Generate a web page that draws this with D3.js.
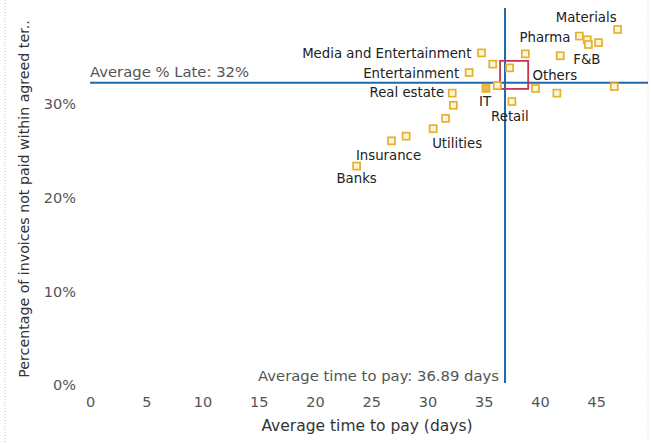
<!DOCTYPE html>
<html lang="en">
<head>
<meta charset="utf-8">
<title>Average time to pay vs late invoices</title>
<script src="https://d3js.org/d3.v7.min.js"></script>
<style>
  body { margin: 0; background: #fff; font-family: "DejaVu Sans", Verdana, sans-serif; }
  .tick text { fill: #555; font-size: 14.5px; font-family: "DejaVu Sans", Verdana, sans-serif; }
  .lbl { fill: #222; font-size: 13.3px; }
  .title { fill: #333; }
  .note { fill: #555; font-size: 14.8px; }
</style>
</head>
<body>
<script>
// sector, average days to pay, % of invoices paid late
var sectors = ["Materials", "Pharma", "", "", "", "", "F&B", "Media and Entertainment", "",
               "", "Entertainment", "Others", "", "", "IT", "", "Real estate", "",
               "Retail", "", "Utilities", "", "Insurance", "Banks"];
var days = [46.9, 43.5, 44.2, 44.3, 45.2, 38.7, 41.8, 34.8, 35.8,
            37.3, 33.7, 39.6, 41.5, 46.6, 35.2, 36.2, 32.2, 32.3,
            37.5, 31.6, 30.5, 28.1, 26.8, 23.7];
var late = [38.0, 37.3, 36.9, 36.4, 36.6, 35.4, 35.2, 35.5, 34.3,
            33.9, 33.4, 31.7, 31.2, 31.9, 31.7, 32.0, 31.2, 29.9,
            30.3, 28.5, 27.4, 26.6, 26.1, 23.4];
var xTicks = [0, 5, 10, 15, 20, 25, 30, 35, 40, 45];
var yTicks = [0, 10, 20, 30];
var avgDays = 36.89;
var avgLate = 32.3;
var highlight = [36.45, 38.95, 31.65, 34.65]; // x0, x1, y0, y1

// label placement: dx, dy, anchor
var place = {
  "Materials": [-1, -8, "end"],
  "Pharma": [-9, 6, "end"],
  "F&B": [13, 8, "start"],
  "Media and Entertainment": [-10, 5, "end"],
  "Entertainment": [-10, 5, "end"],
  "Others": [-3, -8, "start"],
  "IT": [-1, 18, "middle"],
  "Real estate": [-8, 4, "end"],
  "Retail": [-2, 19, "middle"],
  "Utilities": [-1, 19, "start"],
  "Insurance": [-3, 19, "middle"],
  "Banks": [0, 17, "middle"]
};

var W = 651, H = 444;
var svg = d3.select("body").append("svg").attr("width", W).attr("height", H);

var x = d3.scaleLinear().domain([0, 49.6]).range([90, 648]);
var y = d3.scaleLinear().domain([0, 40.3]).range([385, 8]);

// dotted frame edges
svg.append("line").attr("x1", 5).attr("x2", 5).attr("y1", 0).attr("y2", H)
   .attr("stroke", "#bbb").attr("stroke-dasharray", "1,2");
svg.append("line").attr("x1", 648).attr("x2", 648).attr("y1", 0).attr("y2", H)
   .attr("stroke", "#ccc").attr("stroke-dasharray", "1,2");

var xAxis = svg.append("g")
   .attr("transform", "translate(0,393)")
   .call(d3.axisBottom(x).tickValues(xTicks).tickSize(0).tickPadding(4));
xAxis.select(".domain").remove();

var yAxis = svg.append("g")
   .attr("transform", "translate(82,0)")
   .call(d3.axisLeft(y).tickValues(yTicks).tickFormat(function(d) { return d + "%"; }).tickSize(0).tickPadding(6));
yAxis.select(".domain").remove();

svg.append("text").attr("class", "title")
   .attr("x", 367).attr("y", 431).attr("text-anchor", "middle")
   .attr("font-size", "15.5px")
   .text("Average time to pay (days)");

svg.append("text").attr("class", "title")
   .attr("transform", "translate(29,199) rotate(-90)")
   .attr("text-anchor", "middle")
   .attr("font-size", "14.2px")
   .text("Percentage of invoices not paid within agreed ter..");

// reference lines
svg.append("line")
   .attr("x1", x(0)).attr("x2", x(49.6))
   .attr("y1", y(avgLate)).attr("y2", y(avgLate))
   .attr("stroke", "#1f68ad").attr("stroke-width", 2);
svg.append("line")
   .attr("x1", x(avgDays)).attr("x2", x(avgDays))
   .attr("y1", y(40.3)).attr("y2", y(0) - 2)
   .attr("stroke", "#1f68ad").attr("stroke-width", 2);

svg.append("text").attr("class", "note")
   .attr("x", x(0)).attr("y", y(avgLate) - 6)
   .text("Average % Late: " + Math.round(avgLate) + "%");
svg.append("text").attr("class", "note")
   .attr("x", x(avgDays) - 6).attr("y", y(0) - 4)
   .attr("text-anchor", "end")
   .text("Average time to pay: " + avgDays + " days");

// highlight box
svg.append("rect")
   .attr("x", x(highlight[0])).attr("y", y(highlight[3]))
   .attr("width", x(highlight[1]) - x(highlight[0]))
   .attr("height", y(highlight[2]) - y(highlight[3]))
   .attr("fill", "none").attr("stroke", "#c8324e").attr("stroke-width", 1.8);

var pts = sectors.map(function(s, i) { return {name: s, d: days[i], p: late[i]}; });

svg.append("g").selectAll("rect")
   .data(pts)
   .enter().append("rect")
   .attr("x", function(d) { return x(d.d) - 3.5; })
   .attr("y", function(d) { return y(d.p) - 3.5; })
   .attr("width", 7).attr("height", 7)
   .attr("fill", function(d) { return d.name === "IT" ? "#f0b948" : "#fff6d8"; })
   .attr("stroke", "#e5b030").attr("stroke-width", 1.7);

svg.append("g").selectAll("text")
   .data(pts.filter(function(d) { return d.name !== ""; }))
   .enter().append("text")
   .attr("class", "lbl")
   .attr("x", function(d) { return x(d.d) + place[d.name][0]; })
   .attr("y", function(d) { return y(d.p) + place[d.name][1]; })
   .attr("text-anchor", function(d) { return place[d.name][2]; })
   .text(function(d) { return d.name; });
</script>
</body>
</html>
